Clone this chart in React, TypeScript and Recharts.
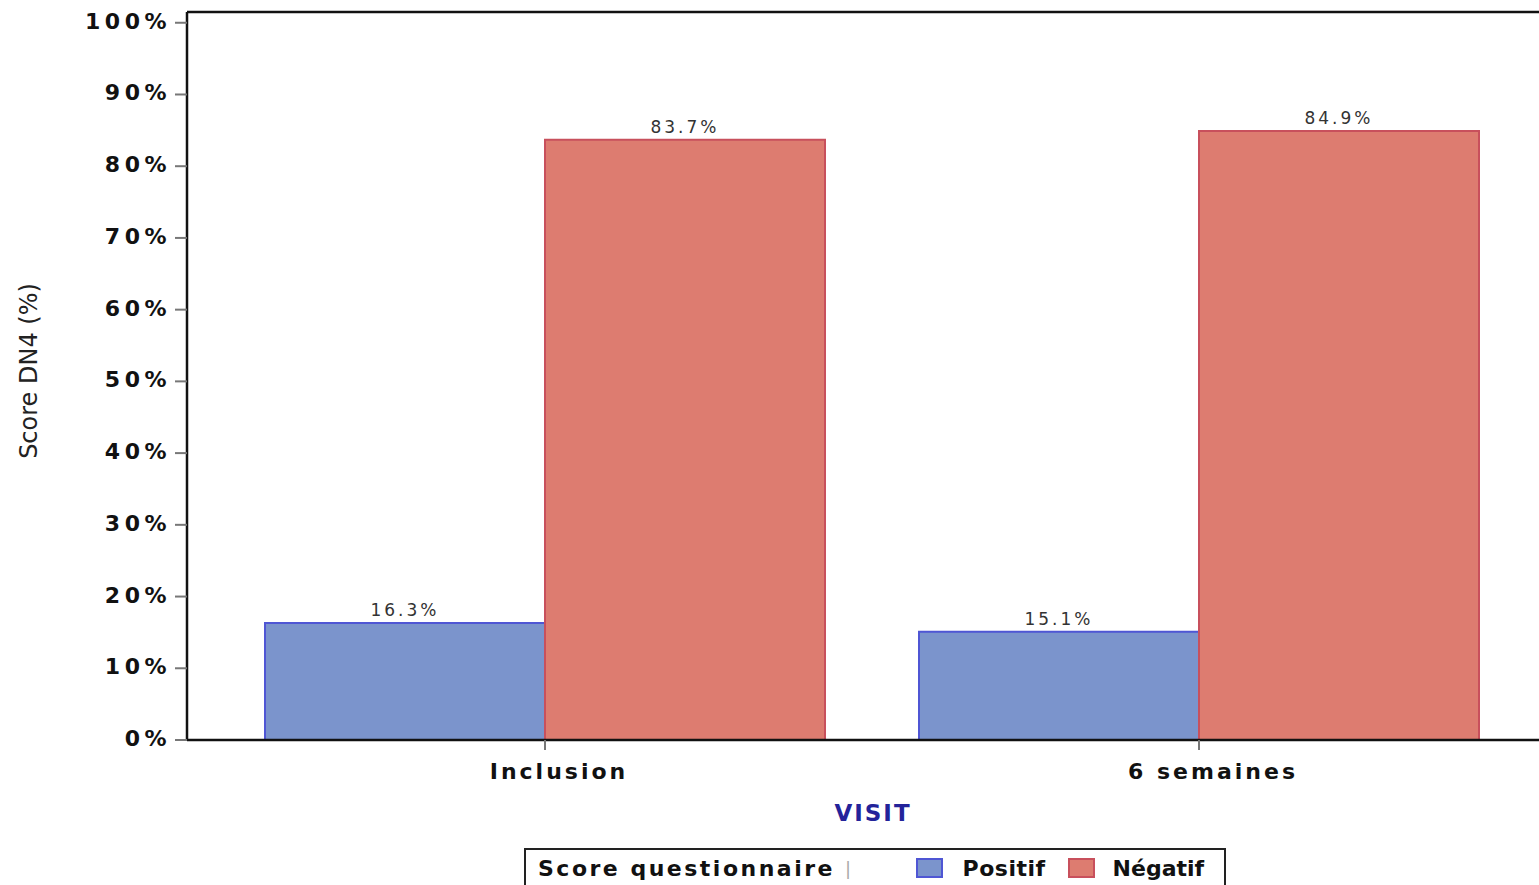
import { BarChart, Bar, XAxis, YAxis, Legend, LabelList, ReferenceLine } from 'recharts'

const visits = ['Inclusion', '6 semaines']
const positif = [16.3, 15.1]
const negatif = [83.7, 84.9]
const yTicks = [0, 10, 20, 30, 40, 50, 60, 70, 80, 90, 100]
const Y_MAX = 101.5

const data = visits.map((visit, i) => ({ visit, positif: positif[i], negatif: negatif[i] }))

const BLUE_FILL = '#7B94CC'
const BLUE_LINE = '#4F56D4'
const RED_FILL = '#DD7C70'
const RED_LINE = '#C8505C'

const FONT = '"DejaVu Sans", Verdana, sans-serif'

const VisitTick = (props: any) => {
  const { x, y, payload } = props
  return (
    <text
      x={x + 14}
      y={y + 21}
      textAnchor="middle"
      dominantBaseline="middle"
      fontFamily={FONT}
      fontWeight="bold"
      fontSize={22}
      letterSpacing={3}
      fill="#111"
    >
      {payload.value}
    </text>
  )
}

const PercentTick = (props: any) => {
  const { x, y, payload } = props
  return (
    <text
      x={x - 2}
      y={y}
      textAnchor="end"
      dominantBaseline="middle"
      fontFamily={FONT}
      fontWeight="bold"
      fontSize={22}
      letterSpacing={4.5}
      fill="#111"
    >
      {`${payload.value}%`}
    </text>
  )
}

const YTitle = (props: any) => {
  const { viewBox } = props
  const cy = viewBox.y + viewBox.height / 2 - 5
  return (
    <text
      x={30}
      y={cy}
      transform={`rotate(-90, 30, ${cy})`}
      textAnchor="middle"
      dominantBaseline="middle"
      fontFamily={FONT}
      fontSize={24}
      fill="#222"
    >
      Score DN4 (%)
    </text>
  )
}

const LegendBox = () => (
  <div
    style={{
      display: 'flex',
      alignItems: 'center',
      height: 38,
      border: '2px solid #222',
      borderBottom: 'none',
      boxSizing: 'border-box',
      fontFamily: FONT,
      fontWeight: 'bold',
      fontSize: 22,
      letterSpacing: 2.5,
      color: '#111',
      whiteSpace: 'nowrap',
    }}
  >
    <span style={{ marginLeft: 12 }}>Score questionnaire</span>
    <span style={{ marginLeft: 10, color: '#aaa', fontWeight: 'normal', fontSize: 18 }}>|</span>
    <span
      style={{
        marginLeft: 62,
        width: 27,
        height: 20,
        background: BLUE_FILL,
        border: `2px solid ${BLUE_LINE}`,
        boxSizing: 'border-box',
      }}
    />
    <span style={{ marginLeft: 20, letterSpacing: 0.5 }}>Positif</span>
    <span
      style={{
        marginLeft: 22,
        width: 27,
        height: 20,
        background: RED_FILL,
        border: `2px solid ${RED_LINE}`,
        boxSizing: 'border-box',
      }}
    />
    <span style={{ marginLeft: 18, letterSpacing: 0 }}>Négatif</span>
  </div>
)

export default function App() {
  return (
    <div style={{ position: 'absolute', left: 0, top: 0, width: 1539, height: 885, background: '#fff' }}>
      <BarChart
        width={1539}
        height={885}
        data={data}
        margin={{ top: 12, right: 0, bottom: 0, left: 0 }}
        barCategoryGap={47}
        barGap={0}
      >
        <XAxis
          dataKey="visit"
          height={107}
          padding={{ left: 31, right: 13 }}
          axisLine={{ stroke: '#111', strokeWidth: 2.5 }}
          tickLine={{ stroke: '#777', strokeWidth: 2 }}
          tickSize={10}
          tick={<VisitTick />}
          interval={0}
          label={{
            value: 'VISIT',
            position: 'insideTop',
            dy: 60,
            dx: 10,
            fill: '#23239A',
            fontFamily: FONT,
            fontWeight: 'bold',
            fontSize: 23,
            letterSpacing: 2,
          }}
        />
        <YAxis
          width={187}
          domain={[0, Y_MAX]}
          ticks={yTicks}
          interval={0}
          axisLine={{ stroke: '#111', strokeWidth: 2.5 }}
          tickLine={{ stroke: '#777', strokeWidth: 2 }}
          tickSize={12}
          tick={<PercentTick />}
          label={<YTitle />}
        />
        <ReferenceLine y={Y_MAX} stroke="#111" strokeWidth={2.5} />
        <Legend content={<LegendBox />} wrapperStyle={{ left: 524, top: 848, width: 702 }} />
        <Bar
          dataKey="positif"
          name="Positif"
          fill={BLUE_FILL}
          stroke={BLUE_LINE}
          strokeWidth={2}
          isAnimationActive={false}
        >
          <LabelList
            dataKey="positif"
            position="top"
            offset={7}
            formatter={(v: any) => `${v}%`}
            fill="#333"
            fontFamily={FONT}
            fontSize={17}
            letterSpacing={3}
          />
        </Bar>
        <Bar
          dataKey="negatif"
          name="Négatif"
          fill={RED_FILL}
          stroke={RED_LINE}
          strokeWidth={2}
          isAnimationActive={false}
        >
          <LabelList
            dataKey="negatif"
            position="top"
            offset={7}
            formatter={(v: any) => `${v}%`}
            fill="#333"
            fontFamily={FONT}
            fontSize={17}
            letterSpacing={3}
          />
        </Bar>
      </BarChart>
    </div>
  )
}
